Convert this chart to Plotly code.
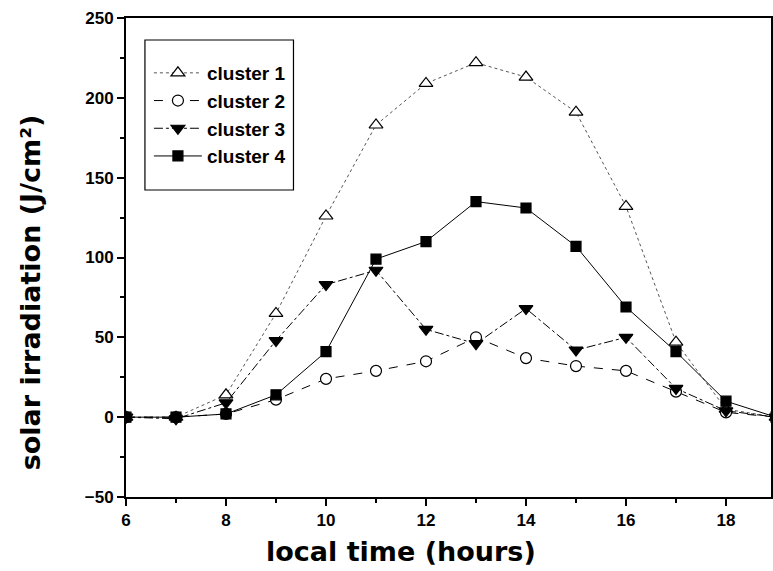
import plotly.graph_objects as go

hours = [6, 7, 8, 9, 10, 11, 12, 13, 14, 15, 16, 17, 18, 19]
cluster1 = [0, 0, 14, 65, 126, 183, 209, 222, 213, 191, 132, 47, 5, 0]
cluster2 = [0, 0, 2, 11, 24, 29, 35, 50, 37, 32, 29, 16, 3, 0]
cluster3 = [0, -1, 9, 48, 83, 92, 55, 46, 68, 42, 50, 18, 4, 0]
cluster4 = [0, 0, 2, 14, 41, 99, 110, 135, 131, 107, 69, 41, 10, 0]

names = ["cluster 1", "cluster 2", "cluster 3", "cluster 4"]
series = [cluster1, cluster2, cluster3, cluster4]
symbols = ["triangle-up", "circle", "triangle-down", "square"]
fills = ["white", "white", "black", "black"]
dashes = ["dot", "dash", "dashdot", "solid"]
lcolors = ["#555555", "#000000", "#000000", "#000000"]
msizes = [12, 11, 12, 10]

fig = go.Figure()
for n, s, sym, f, d, lc, ms in zip(names, series, symbols, fills, dashes, lcolors, msizes):
    fig.add_trace(go.Scatter(
        x=hours, y=s, name=n, mode="lines+markers",
        line=dict(color=lc, width=1, dash=d),
        marker=dict(symbol=sym, size=ms, color=f, line=dict(color="black", width=1.2)),
    ))

tick_font = dict(family="Liberation Sans, Arial", size=17, color="black", weight="bold")
title_font = dict(family="DejaVu Sans, Verdana", size=27, color="black", weight="bold")

L, R, T, B = 126, 773, 18, 497
W, H = R - L, B - T

def px(x):
    return (x - L) / W

def py(y):
    return 1 - (y - T) / H

fig.update_layout(
    width=773, height=571,
    margin=dict(l=L, r=773 - R, t=T, b=571 - B),
    plot_bgcolor="white", paper_bgcolor="white",
    showlegend=True,
    legend=dict(
        x=px(149), y=py(54), xanchor="left", yanchor="top",
        borderwidth=0, bgcolor="rgba(0,0,0,0)",
        font=dict(family="Liberation Sans, Arial", size=19, color="black", weight="bold"),
        tracegroupgap=0, itemwidth=48,
    ),
    shapes=[dict(type="rect", xref="paper", yref="paper",
                 x0=px(145), x1=px(294), y0=py(190), y1=py(40),
                 line=dict(color="black", width=1.2), fillcolor="rgba(0,0,0,0)",
                 layer="above")],
    annotations=[
        dict(text="local time (hours)", xref="paper", yref="paper",
             x=px(402), y=py(551), showarrow=False, font=title_font,
             xanchor="center", yanchor="middle"),
        dict(text="solar irradiation (J/cm²)", xref="paper", yref="paper",
             x=px(30), y=py(292), showarrow=False, font=title_font, textangle=-90,
             xanchor="center", yanchor="middle"),
    ],
    xaxis=dict(
        range=[6, 18.9], tickvals=[6, 8, 10, 12, 14, 16, 18],
        ticks="outside", ticklen=7, tickwidth=1.5, tickcolor="black",
        minor=dict(ticks="outside", ticklen=4, dtick=1, tick0=6, tickcolor="black", tickwidth=1.5),
        showline=True, linecolor="black", linewidth=2, mirror=True,
        showgrid=False, zeroline=False,
        tickfont=tick_font,
    ),
    yaxis=dict(
        range=[-50, 250], dtick=50,
        ticks="outside", ticklen=7, tickwidth=1.5, tickcolor="black",
        minor=dict(ticks="outside", ticklen=4, dtick=25, tickcolor="black", tickwidth=1.5),
        showline=True, linecolor="black", linewidth=2, mirror=True,
        showgrid=False, zeroline=False,
        tickfont=tick_font,
    ),
)

fig.write_html("out.html")
